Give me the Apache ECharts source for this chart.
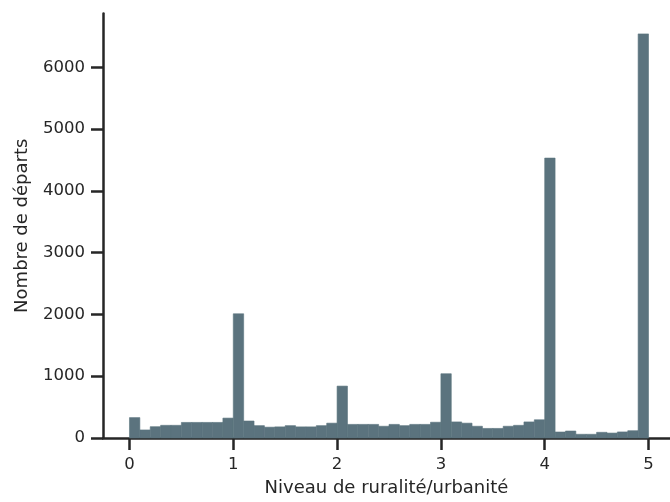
<!DOCTYPE html>
<html>
<head>
<meta charset="utf-8">
<script src="https://cdn.jsdelivr.net/npm/echarts@6/dist/echarts.min.js"></script>
<style>html,body{margin:0;padding:0;background:#fff}#c{width:670px;height:502px}</style>
</head>
<body>
<div id="c"></div>
<script>
// Histogram bins: left edge of first bin and bin width
const binStart = 0;
const binWidth = 0.1;
// Counts per bin (50 bins from 0 to 5)
const counts = [
  330, 130, 183, 205, 205, 252, 252, 252, 252, 322,
  2010, 275, 200, 175, 180, 200, 180, 180, 200, 240,
  840, 220, 220, 220, 190, 220, 200, 220, 220, 255,
  1040, 260, 240, 190, 155, 155, 190, 205, 260, 295,
  4530, 97, 113, 60, 60, 92, 80, 98, 118, 6540
];
const xTicks = [0, 1, 2, 3, 4, 5];
const yTicks = [0, 1000, 2000, 3000, 4000, 5000, 6000];
const xTitle = 'Niveau de ruralité/urbanité';
const yTitle = 'Nombre de départs';

const data = counts.map((c, i) => {
  const l = +(binStart + i * binWidth).toFixed(10);
  const r = +(binStart + (i + 1) * binWidth).toFixed(10);
  return [l, r, c];
});

const ink = '#262626';
const font = 'DejaVu Sans';
const barColor = '#5b737e';
const chart = echarts.init(document.getElementById('c'), null, {renderer: 'canvas'});
chart.setOption({
  animation: false,
  backgroundColor: '#fff',
  grid: {left: 103, right: 0, top: 13.5, bottom: 64, containLabel: false},
  xAxis: {
    type: 'value', min: -0.255, max: 5.207,
    name: xTitle, nameLocation: 'middle', nameGap: 41,
    nameTextStyle: {color: ink, fontSize: 18, fontFamily: font},
    axisLine: {show: true, onZero: false, lineStyle: {color: ink, width: 2.5}},
    axisTick: {show: true, customValues: xTicks, length: 12, lineStyle: {color: ink, width: 2.5}},
    axisLabel: {customValues: xTicks, color: ink, fontSize: 16.5, fontFamily: font, margin: 18,
      formatter: v => String(v)},
    splitLine: {show: false}
  },
  yAxis: {
    type: 'value', min: 0, max: 6870,
    name: yTitle, nameLocation: 'middle', nameGap: 72,
    nameTextStyle: {color: ink, fontSize: 18, fontFamily: font},
    axisLine: {show: true, onZero: false, lineStyle: {color: ink, width: 2.5}},
    axisTick: {show: true, customValues: yTicks, length: 12, lineStyle: {color: ink, width: 2.5}},
    axisLabel: {customValues: yTicks, color: ink, fontSize: 16.5, fontFamily: font, margin: 18,
      formatter: v => String(v)},
    splitLine: {show: false}
  },
  series: [{
    type: 'custom',
    data: data,
    encode: {x: [0, 1], y: 2},
    renderItem: function (params, api) {
      const p0 = api.coord([api.value(0), api.value(2)]);
      const p1 = api.coord([api.value(1), 0]);
      return {
        type: 'rect',
        shape: {x: p0[0], y: p0[1], width: p1[0] - p0[0], height: p1[1] - p0[1]},
        style: {fill: barColor, stroke: barColor, lineWidth: 0.6}
      };
    },
    z: 1
  }]
});
</script>
</body>
</html>
